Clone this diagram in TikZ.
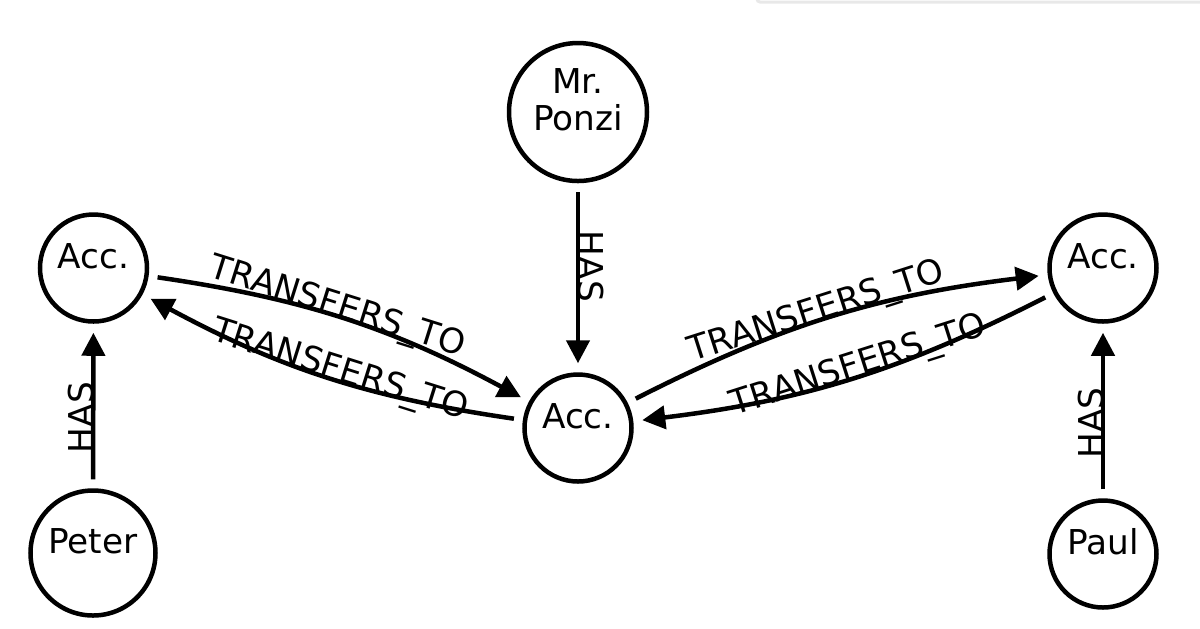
\documentclass[tikz,border=0pt]{standalone}
\usepackage{fontspec}
\setmainfont{DejaVu Sans}
\usetikzlibrary{arrows.meta}

\tikzset{
  entity/.style={circle, draw, line width=0.045cm, inner sep=0pt, text height=0pt, text depth=0pt},
  rel/.style={line width=0.045cm, -{Triangle[length=0.23cm,width=0.23cm]}, shorten <=0.09cm, shorten >=0.09cm},
  rellabel/.style={sloped, anchor=base, inner sep=0pt},
}

\begin{document}
\begin{tikzpicture}[font=\fontsize{9.75pt}{10.3pt}\selectfont]
  \useasboundingbox (0,0) rectangle (12,-6.28);

  % faint frame edge along the top
  \draw[black!9, line width=0.03cm, rounded corners=0.03cm] (7.57,0.1) -- (7.57,-0.02) -- (12.1,-0.02);

  % people
  \node[entity, minimum size=1.38cm, align=center, text height=10.3pt, text depth=0pt] (ponzi) at (5.78,-1.12) {Mr.\\Ponzi};
  \node[entity, minimum size=1.25cm] (peter) at (0.93,-5.53) {Peter};
  \node[entity, minimum size=1.07cm] (paul) at (11.03,-5.54) {Paul};

  % accounts
  \node[entity, minimum size=1.07cm] (accL) at (0.935,-2.68) {Acc.};
  \node[entity, minimum size=1.07cm] (accM) at (5.78,-4.28) {Acc.};
  \node[entity, minimum size=1.07cm] (accR) at (11.03,-2.68) {Acc.};

  % ownership
  \draw[rel] (ponzi) -- node[rellabel, pos=0.44] {HAS} (accM);
  \draw[rel] (peter) -- node[rellabel, pos=0.43] {HAS} (accL);
  \draw[rel] (paul) -- node[rellabel, pos=0.43] {HAS} (accR);

  % transfers between accounts
  \draw[rel] (accL) to[bend left=10] node[rellabel, pos=0.47] {TRANSFERS\_TO} (accM);
  \draw[rel] (accM) to[bend left=10] node[rellabel, pos=0.47] {TRANSFERS\_TO} (accL);
  \draw[rel] (accM) to[bend left=10] node[rellabel, pos=0.47] {TRANSFERS\_TO} (accR);
  \draw[rel] (accR) to[bend left=10] node[rellabel, pos=0.47] {TRANSFERS\_TO} (accM);
\end{tikzpicture}
\end{document}
